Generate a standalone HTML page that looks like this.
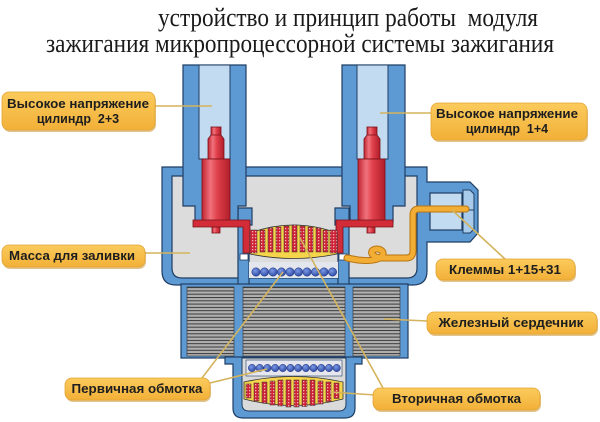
<!DOCTYPE html>
<html><head><meta charset="utf-8"><style>
html,body{margin:0;padding:0;background:#fff;}
svg{display:block;}
.t{font-family:"Liberation Serif","Noto Serif CJK SC",serif;font-size:26px;fill:#1a1a1a;white-space:pre;}
.l{font-family:"Liberation Sans","Noto Sans CJK SC",sans-serif;font-weight:bold;font-size:12.5px;fill:#1e1e1e;white-space:pre;}
</style></head><body>
<svg width="600" height="422" viewBox="0 0 600 422" xmlns="http://www.w3.org/2000/svg">
<defs>
<linearGradient id="red" x1="0" y1="0" x2="1" y2="0">
<stop offset="0" stop-color="#c02532"/><stop offset="0.3" stop-color="#f0727c"/><stop offset="0.55" stop-color="#e0404b"/><stop offset="1" stop-color="#b01e2a"/>
</linearGradient>
<linearGradient id="lab" x1="0" y1="0" x2="0" y2="1">
<stop offset="0" stop-color="#fbcb5c"/><stop offset="1" stop-color="#f2b038"/>
</linearGradient>
<radialGradient id="circ" cx="0.4" cy="0.35" r="0.7">
<stop offset="0" stop-color="#7d9ae6"/><stop offset="1" stop-color="#2a46a0"/>
</radialGradient>
<pattern id="hatch" width="3" height="3" patternUnits="userSpaceOnUse">
<rect width="3" height="3" fill="#cf2437"/><rect width="1.3" height="1.3" fill="#f5b0b8"/>
</pattern>
<pattern id="stripe" width="6" height="3.3" patternUnits="userSpaceOnUse">
<rect width="6" height="3.3" fill="#b0b0b0"/><rect y="0" width="6" height="1" fill="#3a3a3a"/>
</pattern>
</defs>

<!-- Title -->
<text class="t" x="158" y="26" textLength="380" lengthAdjust="spacingAndGlyphs">устройство и принцип работы  модуля</text>
<text class="t" x="46" y="52" textLength="508" lengthAdjust="spacingAndGlyphs">зажигания микропроцессорной системы зажигания</text>

<!-- Body -->
<path d="M162,167 H427 V182 H470 L478,190 V233 L470,242 H427 V271 Q427,285 413,285 H176 Q162,285 162,271 Z" fill="#5d9ad3" stroke="#1f3d63" stroke-width="1.2"/>
<path d="M172,176 H417 V268 Q417,278 407,278 H182 Q172,278 172,268 Z" fill="#dcdcdc" stroke="#1f3d63" stroke-width="1.2"/>
<!-- connector detail -->
<rect x="430" y="193" width="32" height="37" fill="#c3dbf1" stroke="#1f3d63" stroke-width="1.2"/>
<path d="M463,190 H470 L474,194 V229 L470,233 H463 Z" fill="#a9cbeb" stroke="#1f3d63" stroke-width="1"/>
<line x1="463" y1="210" x2="474" y2="210" stroke="#1f3d63" stroke-width="1"/>

<!-- central column walls -->
<path d="M238,208 H252 V225 H249 V285 H238 Z" fill="#5d9ad3" stroke="#1f3d63" stroke-width="1.2"/>
<path d="M349,208 H335 V225 H338 V285 H349 Z" fill="#5d9ad3" stroke="#1f3d63" stroke-width="1.2"/>

<!-- tubes -->
<path d="M183,65 H246 V206 H238 V222 H195 V206 H183 Z" fill="#5d9ad3" stroke="#1f3d63" stroke-width="1.2"/>
<rect x="199" y="65" width="31" height="94" fill="#c3dbf1" stroke="#1f3d63" stroke-width="1"/>
<path d="M342,65 H405 V206 H393 V222 H350 V206 H342 Z" fill="#5d9ad3" stroke="#1f3d63" stroke-width="1.2"/>
<rect x="357" y="65" width="31" height="94" fill="#c3dbf1" stroke="#1f3d63" stroke-width="1"/>

<!-- red pins left -->
<rect x="211" y="127" width="10" height="9" fill="url(#red)" stroke="#7a1018" stroke-width="0.8"/>
<path d="M208,139 L211,135 H221 L224,139 V159 H208 Z" fill="url(#red)" stroke="#7a1018" stroke-width="0.8"/>
<rect x="202" y="159" width="28" height="62" fill="url(#red)" stroke="#7a1018" stroke-width="0.8"/>
<rect x="212" y="227" width="8" height="6" fill="url(#red)" stroke="#7a1018" stroke-width="0.8"/>
<path d="M193,220 H250 V253 H243 V227 H193 Z" fill="#d22c39" stroke="#7a1018" stroke-width="0.8"/>
<!-- red pins right -->
<rect x="367" y="127" width="10" height="9" fill="url(#red)" stroke="#7a1018" stroke-width="0.8"/>
<path d="M364,139 L367,135 H377 L380,139 V159 H364 Z" fill="url(#red)" stroke="#7a1018" stroke-width="0.8"/>
<rect x="358" y="159" width="27" height="62" fill="url(#red)" stroke="#7a1018" stroke-width="0.8"/>
<rect x="367" y="227" width="8" height="6" fill="url(#red)" stroke="#7a1018" stroke-width="0.8"/>
<path d="M393,220 H336 V253 H343 V227 H393 Z" fill="#d22c39" stroke="#7a1018" stroke-width="0.8"/>

<!-- top secondary coil -->
<path d="M250,233 Q293.5,217 337,233 V254 Q293.5,263 250,254 Z" fill="#f6d54a" stroke="#333" stroke-width="0.8"/>
<rect x="250" y="230" width="7" height="23" fill="url(#hatch)" stroke="#333" stroke-width="0.5"/>
<rect x="330" y="230" width="7" height="23" fill="url(#hatch)" stroke="#333" stroke-width="0.5"/>
<g fill="url(#hatch)" stroke="#333" stroke-width="0.5">
<rect x="260" y="230" width="5" height="22"/>
<rect x="268" y="228" width="5" height="24"/>
<rect x="276" y="227" width="5" height="25"/>
<rect x="284" y="226" width="5" height="26"/>
<rect x="292" y="225" width="5" height="27"/>
<rect x="300" y="226" width="5" height="26"/>
<rect x="308" y="227" width="5" height="25"/>
<rect x="316" y="228" width="5" height="24"/>
<rect x="323" y="230" width="5" height="22"/>
</g>
<rect x="240" y="254" width="8" height="6" fill="#fff" stroke="#1f3d63" stroke-width="0.8"/>
<rect x="339" y="254" width="8" height="6" fill="#fff" stroke="#1f3d63" stroke-width="0.8"/>

<!-- primary circles top -->
<rect x="249" y="262" width="89" height="16" fill="#e4e6ee"/>
<g fill="url(#circ)" stroke="#1c3482" stroke-width="0.5">
<circle cx="256" cy="272" r="4.2"/><circle cx="264.5" cy="272" r="4.2"/><circle cx="273" cy="272" r="4.2"/><circle cx="281.5" cy="272" r="4.2"/><circle cx="290" cy="272" r="4.2"/><circle cx="298.5" cy="272" r="4.2"/><circle cx="307" cy="272" r="4.2"/><circle cx="315.5" cy="272" r="4.2"/><circle cx="324" cy="272" r="4.2"/><circle cx="332.5" cy="272" r="4.2"/>
</g>

<!-- wire -->
<g fill="none" stroke-linecap="round" stroke-linejoin="round">
<path d="M466,209 H419 Q413,209 413,215 V251 Q413,258 406,258 H382 C374,258 369,253 373,250 C378,247 386,251 382,256 C378,261 367,261 358,260 L347,258" stroke="#b87410" stroke-width="7"/>
<path d="M466,209 H419 Q413,209 413,215 V251 Q413,258 406,258 H382 C374,258 369,253 373,250 C378,247 386,251 382,256 C378,261 367,261 358,260 L347,258" stroke="#f2ae34" stroke-width="5"/>
</g>

<!-- core -->
<rect x="181" y="284" width="227" height="74" fill="#5d9ad3" stroke="#1f3d63" stroke-width="1.2"/>
<rect x="187" y="287" width="47" height="69" fill="url(#stripe)" stroke="#333" stroke-width="0.6"/>
<rect x="243" y="287" width="102" height="69" fill="url(#stripe)" stroke="#333" stroke-width="0.6"/>
<rect x="353" y="287" width="47" height="69" fill="url(#stripe)" stroke="#333" stroke-width="0.6"/>

<!-- lower cup -->
<path d="M225,357 H362 V364 H355 V408 Q355,418 345,418 H243 Q233,418 233,408 V364 H225 Z" fill="#5d9ad3" stroke="#1f3d63" stroke-width="1.2"/>
<path d="M242,358 H346 V404 Q346,411 339,411 H249 Q242,411 242,404 Z" fill="#dadada" stroke="#1f3d63" stroke-width="1"/>
<rect x="246" y="360" width="96" height="16" fill="#e6e7ee" stroke="#1f3d63" stroke-width="0.6"/>
<g fill="url(#circ)" stroke="#1c3482" stroke-width="0.5">
<circle cx="252" cy="368" r="3.7"/><circle cx="259.7" cy="368" r="3.7"/><circle cx="267.4" cy="368" r="3.7"/><circle cx="275.1" cy="368" r="3.7"/><circle cx="282.8" cy="368" r="3.7"/><circle cx="290.5" cy="368" r="3.7"/><circle cx="298.2" cy="368" r="3.7"/><circle cx="305.9" cy="368" r="3.7"/><circle cx="313.6" cy="368" r="3.7"/><circle cx="321.3" cy="368" r="3.7"/><circle cx="329" cy="368" r="3.7"/><circle cx="336.7" cy="368" r="3.7"/>
</g>
<path d="M244,382 Q293.5,371 343,382 V399 Q293.5,412 244,399 Z" fill="#f6d54a" stroke="#333" stroke-width="0.8"/>
<g fill="url(#hatch)" stroke="#333" stroke-width="0.5">
<rect x="246" y="384" width="5" height="14"/>
<rect x="254" y="383" width="5" height="18"/>
<rect x="262" y="382" width="5" height="21"/>
<rect x="270" y="381" width="5" height="24"/>
<rect x="278" y="380" width="5" height="26"/>
<rect x="286" y="380" width="5" height="27"/>
<rect x="294" y="380" width="5" height="27"/>
<rect x="302" y="380" width="5" height="26.5"/>
<rect x="310" y="380" width="5" height="25.5"/>
<rect x="318" y="381" width="5" height="23"/>
<rect x="326" y="382" width="5" height="19.5"/>
<rect x="334" y="383" width="5" height="15.5"/>
</g>

<!-- leader lines -->
<g stroke="#d3b35c" stroke-width="1.6" fill="none">
<line x1="155" y1="106" x2="212" y2="106"/>
<line x1="380" y1="113" x2="431" y2="113"/>
<line x1="145" y1="253" x2="190" y2="253"/>
<line x1="452" y1="210" x2="505" y2="259"/>
<line x1="384" y1="319" x2="427" y2="321"/>
<line x1="283" y1="272" x2="202" y2="378"/>
<line x1="267" y1="369" x2="210" y2="383"/>
<line x1="300" y1="238" x2="383" y2="388"/>
<line x1="330" y1="392" x2="375" y2="395"/>
</g>

<!-- labels -->
<g>
<rect x="3" y="94" width="153" height="38" rx="7" fill="#c8922e" opacity="0.55"/>
<rect x="2" y="92" width="153" height="38" rx="7" fill="url(#lab)" stroke="#e3a536" stroke-width="0.8"/>
<text class="l" x="78" y="108" text-anchor="middle" textLength="142" lengthAdjust="spacingAndGlyphs">Высокое напряжение</text>
<text class="l" x="78" y="123" text-anchor="middle">цилиндр  2+3</text>

<rect x="432" y="105" width="156" height="37" rx="7" fill="#c8922e" opacity="0.55"/>
<rect x="431" y="103" width="156" height="37" rx="7" fill="url(#lab)" stroke="#e3a536" stroke-width="0.8"/>
<text class="l" x="507" y="118" text-anchor="middle" textLength="142" lengthAdjust="spacingAndGlyphs">Высокое напряжение</text>
<text class="l" x="507" y="133" text-anchor="middle">цилиндр  1+4</text>

<rect x="3" y="247" width="143" height="22" rx="7" fill="#c8922e" opacity="0.55"/>
<rect x="2" y="245" width="143" height="22" rx="7" fill="url(#lab)" stroke="#e3a536" stroke-width="0.8"/>
<text class="l" x="72" y="260" text-anchor="middle" textLength="126" lengthAdjust="spacingAndGlyphs">Масса для заливки</text>

<rect x="437" y="261" width="139" height="21" rx="7" fill="#c8922e" opacity="0.55"/>
<rect x="436" y="259" width="139" height="21" rx="7" fill="url(#lab)" stroke="#e3a536" stroke-width="0.8"/>
<text class="l" x="505" y="274" text-anchor="middle" textLength="112" lengthAdjust="spacingAndGlyphs">Клеммы 1+15+31</text>

<rect x="428" y="314" width="170" height="22" rx="7" fill="#c8922e" opacity="0.55"/>
<rect x="427" y="312" width="170" height="22" rx="7" fill="url(#lab)" stroke="#e3a536" stroke-width="0.8"/>
<text class="l" x="511" y="327" text-anchor="middle" textLength="145" lengthAdjust="spacingAndGlyphs">Железный сердечник</text>

<rect x="66" y="380" width="145" height="22" rx="7" fill="#c8922e" opacity="0.55"/>
<rect x="65" y="378" width="145" height="22" rx="7" fill="url(#lab)" stroke="#e3a536" stroke-width="0.8"/>
<text class="l" x="137" y="393" text-anchor="middle" textLength="131" lengthAdjust="spacingAndGlyphs">Первичная обмотка</text>

<rect x="374" y="390" width="167" height="22" rx="7" fill="#c8922e" opacity="0.55"/>
<rect x="373" y="388" width="167" height="22" rx="7" fill="url(#lab)" stroke="#e3a536" stroke-width="0.8"/>
<text class="l" x="456.5" y="403" text-anchor="middle" textLength="129" lengthAdjust="spacingAndGlyphs">Вторичная обмотка</text>
</g>
</svg>
</body></html>
